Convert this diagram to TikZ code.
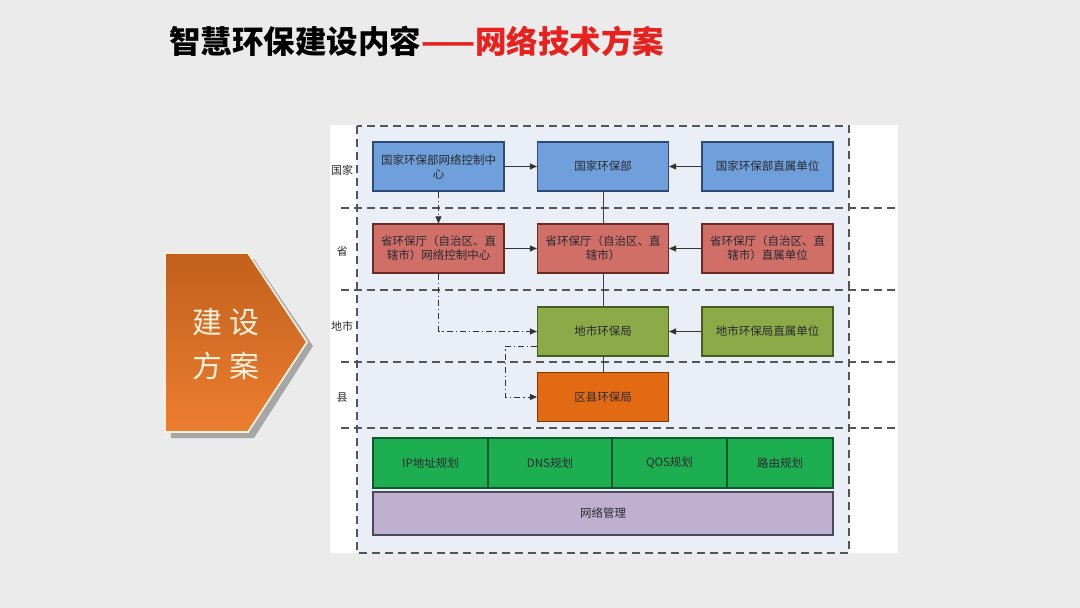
\documentclass[tikz,border=0pt]{standalone}
\usepackage{fontspec}
\setmainfont{Noto Sans CJK SC}
\usetikzlibrary{arrows.meta}
\definecolor{bg}{HTML}{EBEBEB}
\definecolor{panel}{HTML}{FFFFFF}
\definecolor{inner}{HTML}{E9EEF7}
\definecolor{dashc}{HTML}{555555}
\definecolor{bluef}{HTML}{70A0DC}
\definecolor{blued}{HTML}{2F4A78}
\definecolor{redf}{HTML}{D06E68}
\definecolor{redd}{HTML}{6A2A26}
\definecolor{olivef}{HTML}{8CAA48}
\definecolor{olived}{HTML}{485C22}
\definecolor{orangef}{HTML}{E26A12}
\definecolor{oranged}{HTML}{7A3808}
\definecolor{greenf}{HTML}{1CAE50}
\definecolor{greend}{HTML}{0E5A2A}
\definecolor{purplef}{HTML}{BFB0D0}
\definecolor{purpled}{HTML}{4A4A5C}
\definecolor{titlered}{HTML}{E8201E}
\definecolor{chevtop}{HTML}{C2601C}
\definecolor{chevbot}{HTML}{EC7E30}
\definecolor{cream}{HTML}{F8F0DC}
\definecolor{txt}{HTML}{2A2A30}
\tikzset{
  box/.style={draw, line width=1.1pt, minimum width=131pt, minimum height=49pt, inner sep=0pt,
     align=center, text=txt, font=\fontsize{11.5}{14}\selectfont},
  bluebox/.style={box, fill=bluef, draw=blued},
  redbox/.style={box, fill=redf, draw=redd},
  olivebox/.style={box, fill=olivef, draw=olived},
  orangebox/.style={box, fill=orangef, draw=oranged},
  cellbox/.style={box, fill=greenf, draw=greend, minimum height=50pt},
  mgmtbox/.style={box, fill=purplef, draw=purpled, minimum width=460pt, minimum height=43pt},
  sep/.style={draw=dashc, line width=1.3pt, dash pattern=on 8pt off 5pt},
  flow/.style={draw=black!80, line width=0.9pt, -{Triangle[length=7pt,width=6pt]}},
  plain/.style={draw=black!75, line width=0.9pt},
  dd/.style={draw=black!80, line width=0.9pt, dash pattern=on 6pt off 3pt on 1.2pt off 3pt, -{Triangle[length=7pt,width=6pt]}},
  lvl/.style={text=txt, font=\fontsize{11}{13}\selectfont},
}
\begin{document}
\begin{tikzpicture}[x=1pt,y=-1pt]
\fill[bg] (0,0) rectangle (1080,608);
\useasboundingbox (0,0) rectangle (1080,608);
% title
\node[anchor=west, inner sep=0pt, font=\fontsize{31.5}{34}\selectfont\bfseries] (title) at (169,41)
  {智慧环保建设内容\textcolor{titlered}{——网络技术方案}};
% chevron
\fill[gray!70] (171,259) -- (254,259) -- (313,346) -- (254,438) -- (171,438) -- cycle;
\shade[top color=chevtop, bottom color=chevbot, draw=cream, line width=1.8pt]
  (165,253) -- (248,253) -- (307,342) -- (248,432) -- (165,432) -- cycle;
\node[text=cream, font=\fontsize{30}{44}\selectfont, align=center] (chev) at (226,344) {建 设\\方 案};
% panel
\fill[panel] (330,125) rectangle (898,553);
\fill[inner] (357,126) rectangle (849,553);
\draw[sep] (357,126) rectangle (849,553);
\foreach \yy in {208,290,362,428} \draw[sep] (341,\yy) -- (898,\yy);
% level labels
\node[lvl] (l1) at (342,170) {国家};
\node[lvl] (l2) at (342,251) {省};
\node[lvl] (l3) at (342,326) {地市};
\node[lvl] (l4) at (342,398) {县};
% boxes
\node[bluebox] (a1) at (438.5,166.5) {国家环保部网络控制中\\心};
\node[bluebox] (a2) at (603,166.5) {国家环保部};
\node[bluebox] (a3) at (767.5,166.5) {国家环保部直属单位};
\node[redbox] (b1) at (438.5,248.5) {省环保厅（自治区、直\\辖市）网络控制中心};
\node[redbox] (b2) at (603,248.5) {省环保厅（自治区、直\\辖市）};
\node[redbox] (b3) at (767.5,248.5) {省环保厅（自治区、直\\辖市）直属单位};
\node[olivebox] (c2) at (603,331.5) {地市环保局};
\node[olivebox] (c3) at (767.5,331.5) {地市环保局直属单位};
\node[orangebox] (d2) at (603,397) {区县环保局};
% bottom
\node[cellbox, minimum width=115pt] (e1) at (430.5,463) {IP地址规划};
\node[cellbox, minimum width=124pt] (e2) at (550,463) {DNS规划};
\node[cellbox, minimum width=115pt] (e3) at (669.5,463) {QOS规划};
\node[cellbox, minimum width=106pt] (e4) at (780,463) {路由规划};
\node[mgmtbox] (f) at (603,513.5) {网络管理};
% connectors
\draw[flow] (a1.east) -- (a2.west);
\draw[flow] (a3.west) -- (a2.east);
\draw[flow] (b1.east) -- (b2.west);
\draw[flow] (b3.west) -- (b2.east);
\draw[flow] (c3.west) -- (c2.east);
\draw[plain] (a2.south) -- (b2.north);
\draw[plain] (b2.south) -- (c2.north);
\draw[plain] (c2.south) -- (d2.north);
\draw[dd] (a1.south) -- (b1.north);
\draw[dd] (b1.south) |- (c2.west);
\coordinate (k1) at ([yshift=-14.5pt]c2.west);
\draw[dd] (k1) -- ++(-32,0) |- (d2.west);
\end{tikzpicture}
\end{document}
